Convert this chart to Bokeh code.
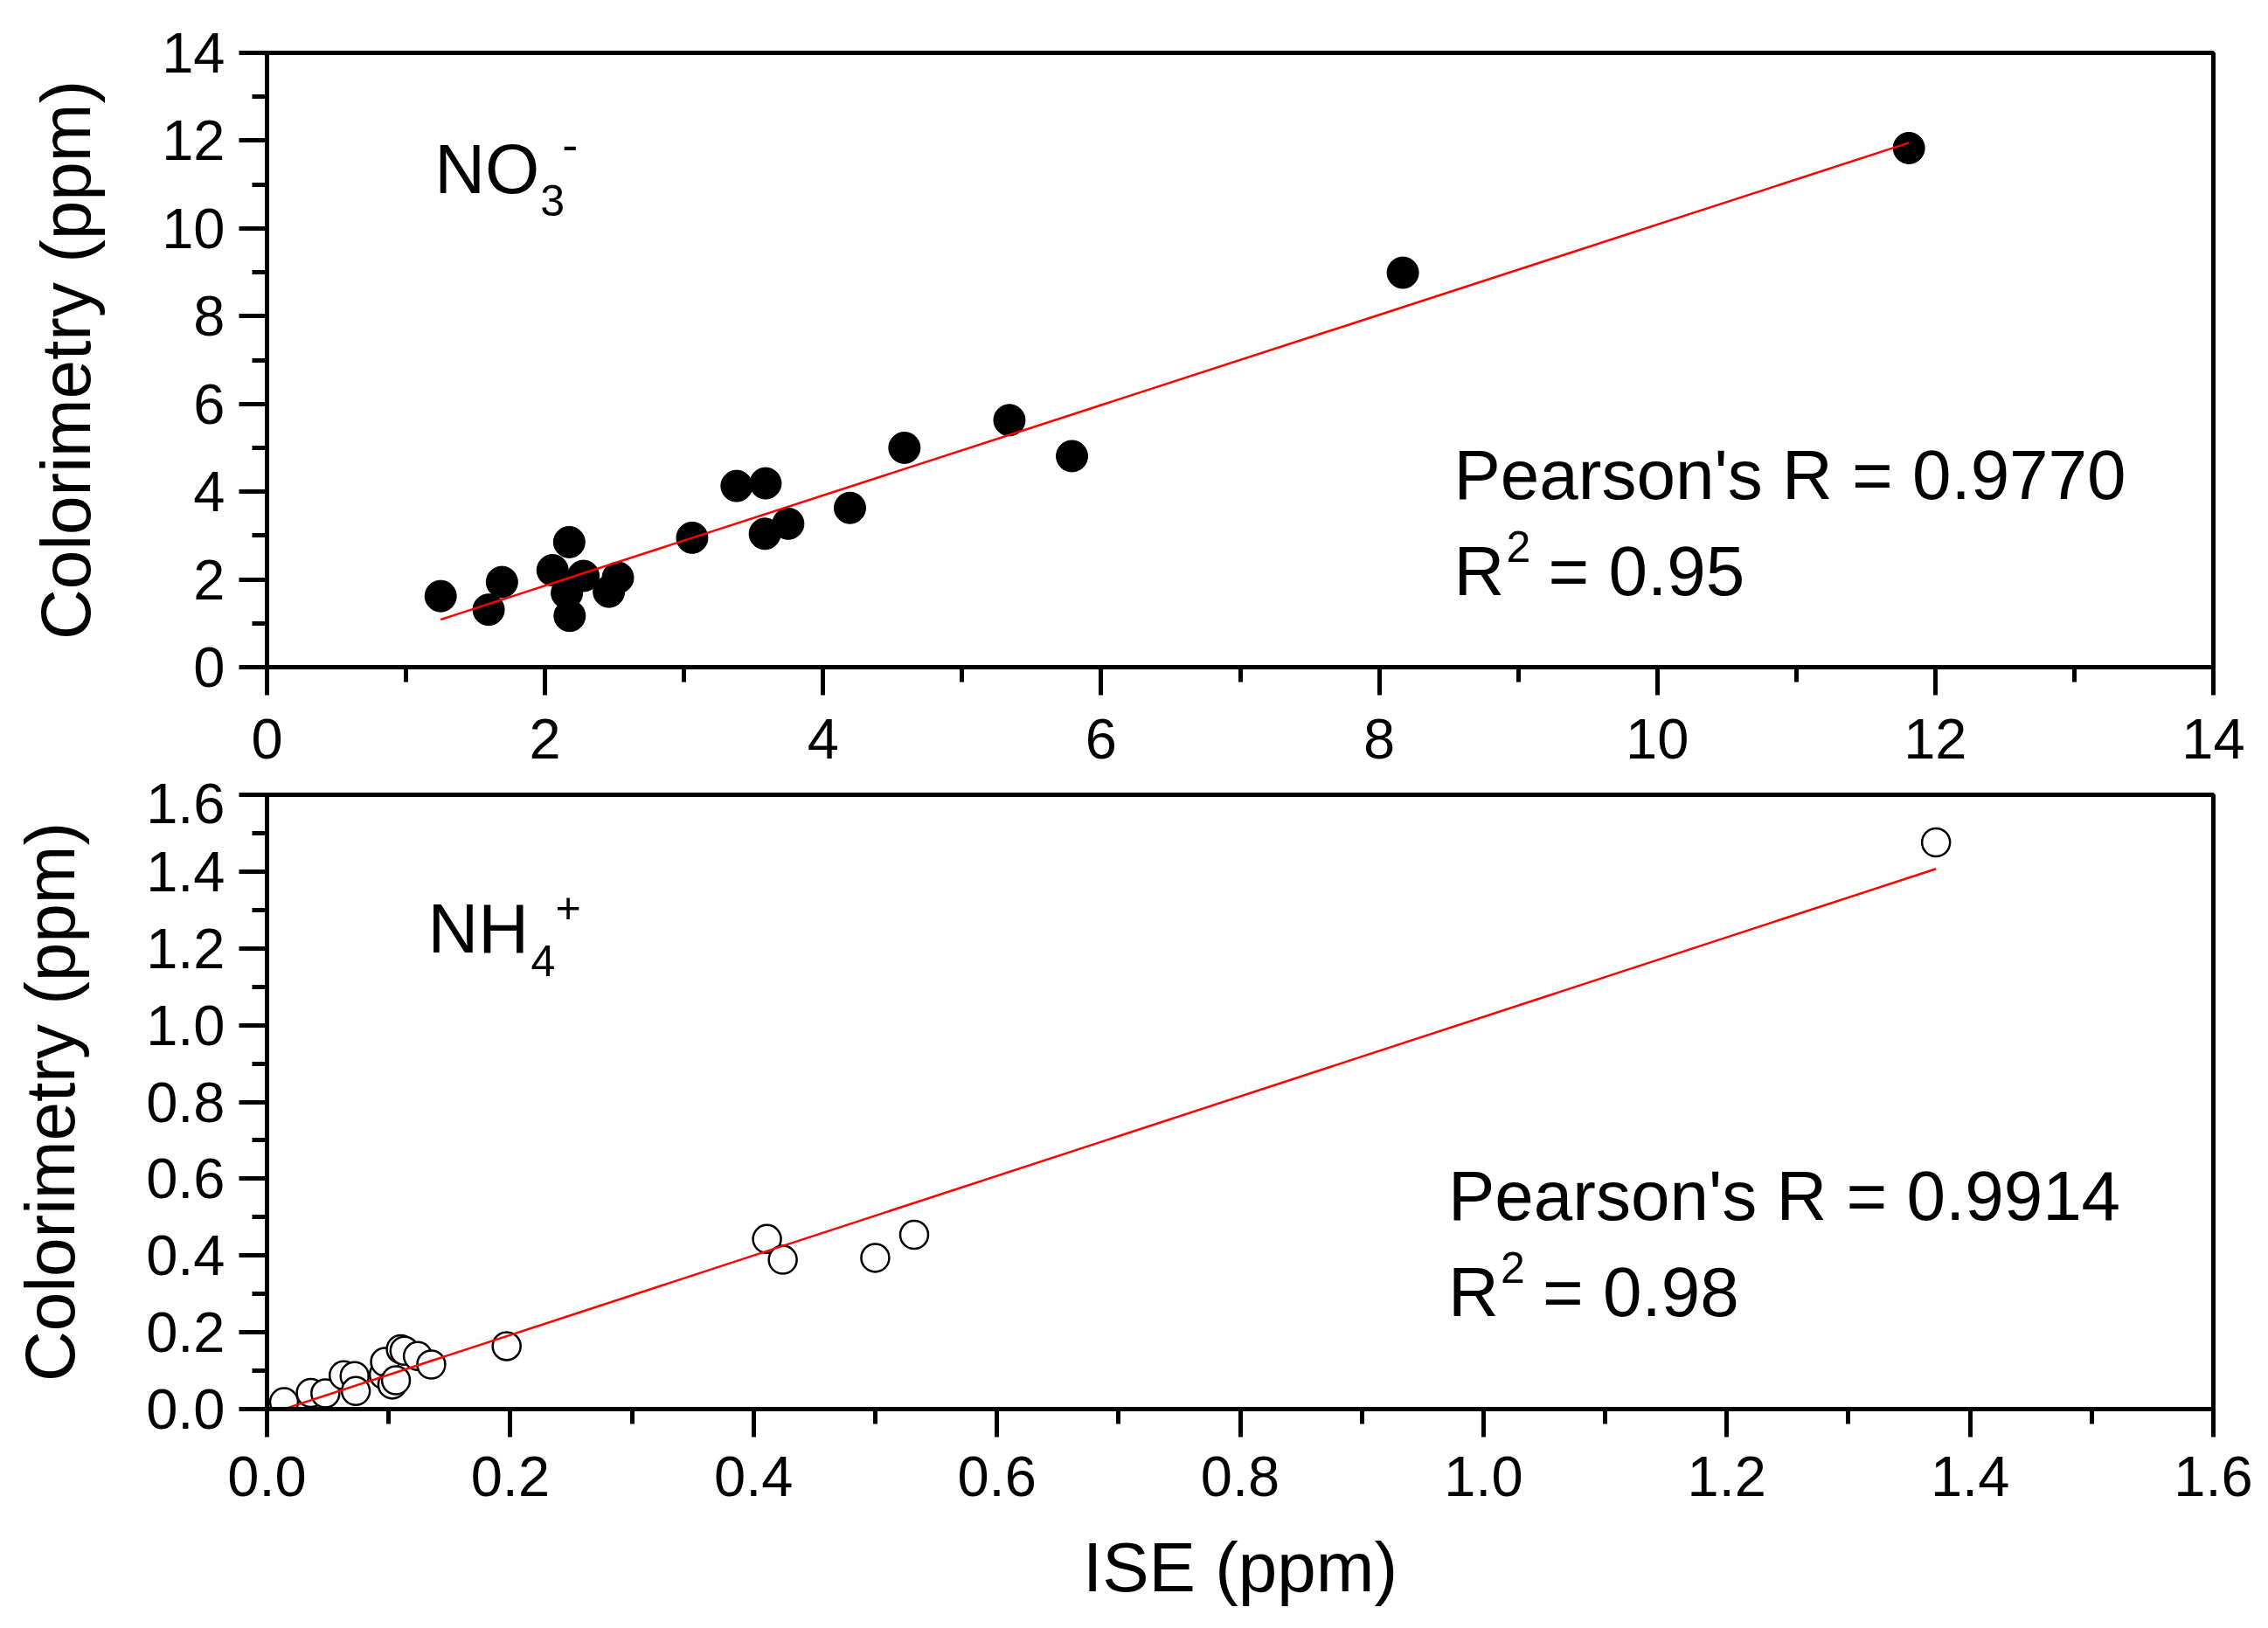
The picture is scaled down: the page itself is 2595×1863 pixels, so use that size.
import numpy as np
from bokeh.plotting import figure
from bokeh.models import Range1d, FixedTicker, Label, NumeralTickFormatter
from bokeh.layouts import column
from bokeh.embed import file_html
from bokeh.resources import INLINE

# ---------------- data: NO3- panel ----------------
no3_ise = [1.249, 1.594, 1.69, 2.054, 2.174, 2.276, 2.157, 2.177, 2.524, 2.459,
           3.058, 3.378, 3.586, 3.581, 3.749, 4.193, 4.585, 5.34, 5.79, 8.17, 11.81]
no3_col = [1.62, 1.31, 1.94, 2.21, 2.85, 2.08, 1.69, 1.17, 2.04, 1.72,
           2.95, 4.13, 4.19, 3.04, 3.27, 3.63, 5.0, 5.63, 4.81, 8.99, 11.83]
no3_fit_slope = 1.0288
no3_fit_intercept = -0.200
no3_pearson = "Pearson's R = 0.9770"
no3_r2 = "= 0.95"

# ---------------- data: NH4+ panel ----------------
nh4_ise = [0.014, 0.036, 0.048, 0.063, 0.072, 0.073, 0.096, 0.097, 0.103, 0.106,
           0.110, 0.113, 0.124, 0.135, 0.197, 0.411, 0.424, 0.500, 0.532, 1.372]
nh4_col = [0.018, 0.042, 0.041, 0.088, 0.086, 0.047, 0.090, 0.123, 0.064, 0.075,
           0.156, 0.152, 0.138, 0.116, 0.164, 0.443, 0.389, 0.394, 0.454, 1.476]
nh4_fit_slope = 1.036
nh4_fit_intercept = -0.0143
nh4_pearson = "Pearson's R = 0.9914"
nh4_r2 = "= 0.98"

# ---------------- ticks ----------------
top_ticks = [0, 2, 4, 6, 8, 10, 12, 14]
top_minor = [1, 3, 5, 7, 9, 11, 13]
bot_ticks = [0.0, 0.2, 0.4, 0.6, 0.8, 1.0, 1.2, 1.4, 1.6]
bot_minor = [0.1, 0.3, 0.5, 0.7, 0.9, 1.1, 1.3, 1.5]

x_title = "ISE (ppm)"
y_title = "Colorimetry (ppm)"

FONT = "Liberation Sans"


def make_panel(rng, ticks, minor, top_border, bottom_border, xstandoff, fmt=None):
    p = figure(frame_width=2227, frame_height=703,
               x_range=Range1d(*rng), y_range=Range1d(*rng),
               output_backend="svg", toolbar_location=None,
               min_border_left=305, min_border_right=50,
               min_border_top=top_border, min_border_bottom=bottom_border,
               background_fill_color="white", border_fill_color="white")
    p.grid.visible = False
    p.outline_line_color = "black"
    p.outline_line_width = 5
    for ax in (p.xaxis[0], p.yaxis[0]):
        ax.ticker = FixedTicker(ticks=ticks, minor_ticks=minor)
        ax.axis_line_width = 5
        ax.axis_line_color = "black"
        ax.major_tick_line_width = 5
        ax.minor_tick_line_width = 5
        ax.major_tick_in = 0
        ax.minor_tick_in = 0
        ax.major_tick_out = 32
        ax.minor_tick_out = 17
        ax.major_label_text_font = FONT
        ax.major_label_text_font_size = "65px"
        ax.major_label_text_color = "black"
        ax.axis_label_text_font = FONT
        ax.axis_label_text_font_size = "80px"
        ax.axis_label_text_font_style = "normal"
        ax.axis_label_text_color = "black"
        if fmt is not None:
            ax.formatter = NumeralTickFormatter(format=fmt)
    p.xaxis[0].major_label_standoff = xstandoff
    p.yaxis[0].major_label_standoff = 16
    p.yaxis[0].axis_label = y_title
    p.yaxis[0].axis_label_standoff = 62
    return p


def add_text(p, x, y, text, fs=80, xo=0, yo=0):
    # baseline correction (text is placed ~0.39 em low with alphabetic baseline)
    p.add_layout(Label(x=x, y=y, text=text, x_offset=xo, y_offset=yo + 0.39 * fs,
                       text_font=FONT, text_font_size=f"{fs}px", text_color="black",
                       text_align="left", text_baseline="alphabetic"))


# ---------------- top panel ----------------
p1 = make_panel((0, 14), top_ticks, top_minor, 60, 133, 27)
p1.scatter(no3_ise, no3_col, size=36, marker="circle",
           fill_color="black", line_color="black", line_width=1)
fx1 = np.array([min(no3_ise), max(no3_ise)])
p1.line(fx1, no3_fit_slope * fx1 + no3_fit_intercept, line_color="#FF0000", line_width=2.5)
add_text(p1, 1.205, 10.735, "NO")
add_text(p1, 1.205, 10.735, "3", fs=50, xo=121, yo=-25)
add_text(p1, 1.205, 10.735, "-", fs=54, xo=146, yo=38)
add_text(p1, 8.537, 3.756, no3_pearson)
add_text(p1, 8.537, 1.567, "R")
add_text(p1, 8.537, 1.567, "2", fs=50, xo=60, yo=40)
add_text(p1, 8.537, 1.567, no3_r2, xo=108)

# ---------------- bottom panel ----------------
p2 = make_panel((0, 1.6), bot_ticks, bot_minor, 13, 250, 22, fmt="0.0")
p2.xaxis[0].axis_label = x_title
p2.xaxis[0].axis_label_standoff = 34
p2.scatter(nh4_ise, nh4_col, size=32, marker="circle",
           fill_color="white", line_color="black", line_width=2.5)
fx2 = np.array([min(nh4_ise), max(nh4_ise)])
p2.line(fx2, nh4_fit_slope * fx2 + nh4_fit_intercept, line_color="#FF0000", line_width=2.5)
add_text(p2, 0.1322, 1.181, "NH")
add_text(p2, 0.1322, 1.181, "4", fs=50, xo=118, yo=-25)
add_text(p2, 0.1322, 1.181, "+", fs=50, xo=146, yo=36)
add_text(p2, 0.971, 0.4854, nh4_pearson)
add_text(p2, 0.971, 0.2344, "R")
add_text(p2, 0.971, 0.2344, "2", fs=50, xo=60, yo=40)
add_text(p2, 0.971, 0.2344, nh4_r2, xo=108)

layout = column(p1, p2)
open("out.html", "w").write(file_html(layout, INLINE))
